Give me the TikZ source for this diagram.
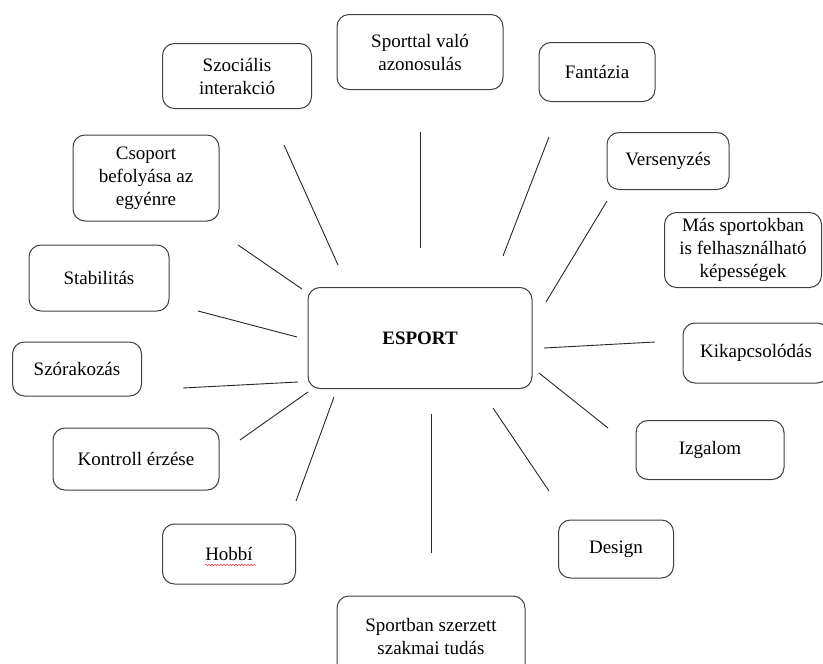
\documentclass[tikz,border=0pt]{standalone}
\usepackage{fontspec}
\setmainfont{Liberation Serif}
\usetikzlibrary{positioning, decorations.pathmorphing}

\begin{document}
\begin{tikzpicture}[x=1pt, y=-1pt,
    topic/.style={rectangle, rounded corners=12pt, draw=black!75, line width=1pt,
                  align=center, inner sep=0pt, font=\fontsize{19}{23}\selectfont},
    spoke/.style={draw=black!85, line width=0.9pt}]
\useasboundingbox (0,0) rectangle (823,664);
\clip (0,0) rectangle (823,664);

% Central topic
\node[topic, minimum width=224pt, minimum height=101pt,
      font=\fontsize{19}{23}\selectfont\bfseries] (esport) at (420,338) {ESPORT};

% Surrounding topics: name/x/y/width/height/label
\foreach \name/\xpos/\ypos/\w/\h/\txt in {
    szoc/237/76/149/65/{Szociális\\interakció},
    spor/420/52/166/75/{Sporttal való\\azonosulás},
    fant/597/72/116/59/{Fantázia},
    vers/668/161/122/57/{Versenyzés},
    mas/743/250/157/75/{Más sportokban\\is felhasználható\\képességek},
    kikap/756/353/146/60/{Kikapcsolódás},
    izg/710/450/148/59/{Izgalom},
    des/616/549/115/58/{Design},
    sban/431/636/188/80/{Sportban szerzett\\szakmai tudás},
    hob/229/554/133/60/{Hobbí},
    kont/136/459/166/62/{Kontroll érzése},
    szor/77/369/129/54/{Szórakozás},
    stab/99/278/140/66/{Stabilitás},
    csop/146/178/146/86/{Csoport\\befolyása az\\egyénre}} {
    \node[topic, minimum width=\w pt, minimum height=\h pt] (\name) at (\xpos,\ypos) {\txt};
}

% Spokes (free-standing, not touching the boxes)
\foreach \name/\xa/\ya/\xb/\yb in {
    szoc/338/265/284/145, spor/420/248/420/132, fant/503/256/549/137,
    vers/546/302/607/201, kikap/544/348/655/342, izg/539/373/608/428,
    des/493/408/549/491, sban/431/414/431/553, hob/334/397/296/501,
    kont/308/392/240/440, szor/298/382/183/388, stab/297/337/198/311,
    csop/302/289/238/245} {
    \coordinate (\name-in) at (\xa,\ya);
    \coordinate (\name-out) at (\xb,\yb);
    \draw[spoke] (\name-in) -- (\name-out);
}

% Spell-check squiggle under Hobbí
\coordinate (sq-a) at (205,565);
\coordinate (sq-b) at (256,565);
\draw[red!80, line width=0.5pt, decorate,
      decoration={snake, amplitude=0.8pt, segment length=3pt}] (sq-a) -- (sq-b);

\end{tikzpicture}
\end{document}
